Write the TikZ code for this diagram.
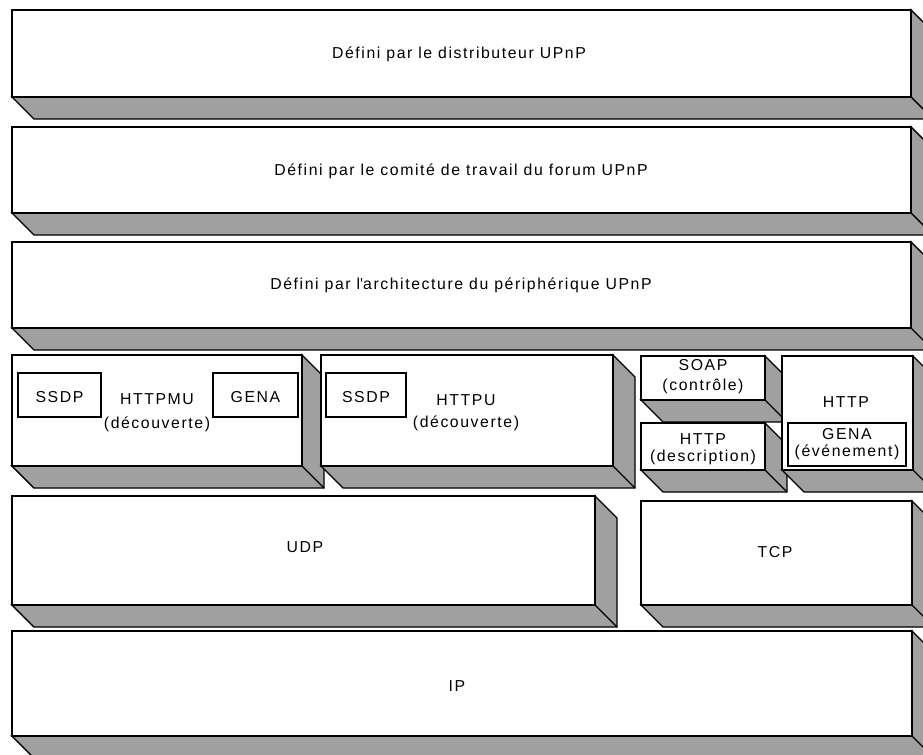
\documentclass[tikz,border=0pt]{standalone}
\usepackage{fontspec}
\setmainfont[LetterSpace=10]{Liberation Sans}
\definecolor{ombre}{HTML}{A0A0A0}
\tikzset{
  devant/.style={fill=white, draw=black, line width=0.8pt},
  ombrage/.style={fill=ombre, draw=black, line width=0.8pt},
  cadre/.style={fill=white, draw=black, line width=0.7pt},
  etiq/.style={font=\fontsize{9}{10}\selectfont, anchor=base, inner sep=0pt}
}
% bloc en relief : x1, y1, x2, y2 (en pixels)
\newcommand{\bloc}[4]{%
  \filldraw[ombrage] (#3,#2) -- (#3+22,#2+22) -- (#3+22,#4+22) -- (#1+22,#4+22) -- (#1,#4) -- (#3,#4) -- cycle;
  \draw[ombrage] (#3,#4) -- (#3+22,#4+22);
  \filldraw[devant] (#1,#2) rectangle (#3,#4);
}

\begin{document}
\begin{tikzpicture}[x=0.02cm, y=-0.02cm]
\useasboundingbox (0,0) rectangle (923,754);
\clip (0,0) rectangle (923,754);

% couches superieures
\bloc{12}{10}{911}{97}
\bloc{12}{127}{911}{213}
\bloc{12}{242}{911}{328}
\node[etiq] (distrib) at (459,58) {Défini par le distributeur UPnP};
\node[etiq] (comite) at (461,175) {Défini par le comité de travail du forum UPnP};
\node[etiq] (archi) at (461,289) {Défini par l\textquotesingle architecture du périphérique UPnP};

% HTTPMU
\bloc{12}{355}{302}{466}
\filldraw[cadre] (18,373) rectangle (101,417);
\filldraw[cadre] (213,373) rectangle (298,417);
\node[etiq] (ssdpA) at (59.5,402) {SSDP};
\node[etiq] (genaA) at (255.5,402) {GENA};
\node[etiq] (httpmu) at (157,404) {HTTPMU};
\node[etiq] (decA) at (157,428) {(découverte)};

% HTTPU
\bloc{321}{355}{613}{466}
\filldraw[cadre] (326,373) rectangle (406,417);
\node[etiq] (ssdpB) at (366,402) {SSDP};
\node[etiq] (httpu) at (466,405) {HTTPU};
\node[etiq] (decB) at (466,427) {(découverte)};

% SOAP et HTTP
\bloc{641}{356}{765}{400}
\node[etiq] (soap) at (703,370) {SOAP};
\node[etiq] (controle) at (703,390) {(contrôle)};
\bloc{641}{423}{765}{470}
\node[etiq] (httpD) at (703,444) {HTTP};
\node[etiq] (descr) at (703,461) {(description)};
\bloc{782}{356}{913}{470}
\node[etiq] (httpG) at (846,407) {HTTP};
\filldraw[cadre] (788,423) rectangle (906,466);
\node[etiq] (genaB) at (847,439) {GENA};
\node[etiq] (evt) at (847,456) {(événement)};

% transport
\bloc{12}{496}{595}{605}
\node[etiq] (udp) at (305,552) {UDP};
\bloc{641}{501}{912}{605}
\node[etiq] (tcp) at (775,557) {TCP};

% reseau
\bloc{12}{631}{912}{736}
\node[etiq] (ip) at (457,691) {IP};

\end{tikzpicture}
\end{document}
